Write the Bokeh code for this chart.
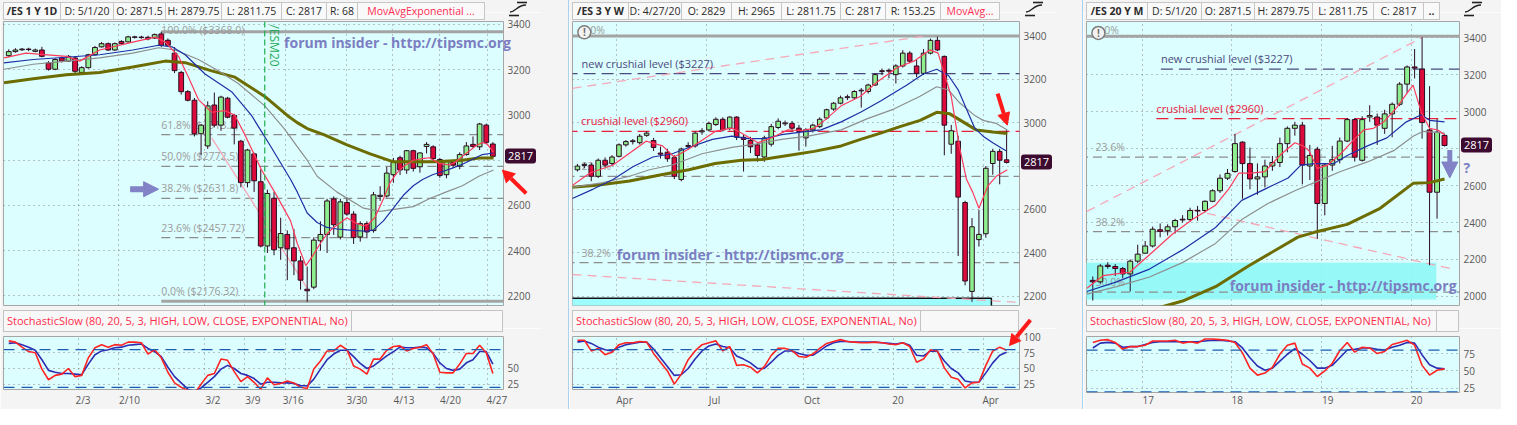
import math
from bokeh.plotting import figure
from bokeh.layouts import row, column
from bokeh.models import ColumnDataSource, FixedTicker, Label, Arrow, NormalHead, Div, Range1d, Span
from bokeh.embed import file_html
from bokeh.resources import INLINE
from bokeh.core.properties import value

FONT = "Open Sans"
CYAN = "#dcfefe"
PANEL_BG = "#f4f4f4"
UP_FILL = "#8eef8e"
DOWN_FILL = "#dc0b3c"
WICK = "#2a0c20"
EMA_RED = "#ff3b5c"
EMA_BLUE = "#1f2fa6"
SMA_GRAY = "#8e8e8e"
SMA_OLIVE = "#6c6c00"
STO_K = "#ff2323"
STO_D = "#2d2db4"
WM_COLOR = "#7b7fc2"
FIB_GRAY = "#9b9b9b"
NAVY_LVL = "#4a4a80"
RED_LVL = "#e8203c"
PINK = "#f5a8b8"
TAG_BG = "#3c0b2f"

STOCH_TITLE = "StochasticSlow (80, 20, 5, 3, HIGH, LOW, CLOSE, EXPONENTIAL, No)"
WATERMARK = "forum insider - http://tipsmc.org"

# ======================= Panel 1 : /ES 1 Y 1D (daily) =======================
d_open = [3262, 3280, 3288, 3291, 3281, 3287, 3230, 3202, 3252, 3238,
          3252, 3188, 3209, 3266, 3301, 3315, 3287, 3325, 3323, 3343,
          3344, 3343, 3340, 3358, 3330, 3273, 3188, 3103, 3065, 2917,
          2863, 3044, 2955, 3074, 2998, 2884, 2701, 2828, 2705, 2421,
          2632, 2413, 2472, 2413, 2355, 2230, 2239, 2444, 2472, 2629,
          2460, 2613, 2562, 2461, 2520, 2489, 2640, 2642, 2736, 2811,
          2757, 2842, 2771, 2861, 2859, 2803, 2736, 2790, 2774, 2825,
          2870, 2859, 2955, 2871.5]
d_high = [3290, 3295, 3296, 3297, 3293, 3301, 3238, 3250, 3258, 3265,
          3260, 3215, 3270, 3305, 3322, 3320, 3320, 3330, 3350, 3350,
          3350, 3350, 3360, 3368, 3338, 3300, 3195, 3110, 3075, 2960,
          3060, 3099, 3085, 3080, 3005, 2890, 2850, 2833, 2760, 2670,
          2660, 2546, 2490, 2496, 2376, 2330, 2460, 2530, 2630, 2640,
          2630, 2635, 2575, 2530, 2530, 2660, 2685, 2770, 2810, 2820,
          2845, 2846, 2835, 2880, 2866, 2810, 2800, 2800, 2835, 2880,
          2905, 2965, 2962, 2879.75]
d_low = [3255, 3275, 3283, 3282, 3277, 3255, 3196, 3198, 3232, 3235,
         3185, 3183, 3205, 3262, 3298, 3283, 3283, 3310, 3320, 3338,
         3337, 3330, 3336, 3300, 3300, 3185, 3090, 3060, 2905, 2821,
         2850, 2945, 2930, 2985, 2870, 2680, 2680, 2660, 2415, 2390,
         2380, 2360, 2270, 2292, 2228, 2174, 2230, 2400, 2390, 2470,
         2450, 2555, 2430, 2440, 2455, 2480, 2620, 2635, 2700, 2735,
         2740, 2750, 2745, 2830, 2790, 2722, 2720, 2765, 2760, 2820,
         2855, 2845, 2870, 2811.75]
d_close = [3280, 3287, 3291, 3289, 3287, 3259, 3202, 3245, 3238, 3259,
           3193, 3209, 3266, 3298, 3315, 3287, 3315, 3315, 3345, 3345,
           3342, 3336, 3355, 3308, 3308, 3196, 3103, 3065, 2917, 2955,
           3040, 2955, 3079, 2990, 2942, 2701, 2845, 2709, 2421, 2653,
           2404, 2476, 2408, 2355, 2270, 2223, 2447, 2472, 2620, 2515,
           2616, 2562, 2458, 2520, 2483, 2647, 2645, 2743, 2790, 2757,
           2842, 2764, 2832, 2870, 2807, 2732, 2794, 2778, 2825, 2863,
           2861, 2960, 2879, 2817]
d_ema_red_x = [-0.7, 2.6, 8.7, 10.7, 13.7, 18.7, 22.1, 23.6, 25.6, 27.1, 28.6, 30.6, 32.6, 34.1, 35.6,
               38.1, 40.1, 42.5, 43.5, 44.8, 45.8, 47.0, 48.0, 49.0, 50.0, 51.0, 52.2, 53.5, 54.2, 55.2,
               56.5, 57.5, 58.5, 59.5, 61.0, 62.4, 63.4, 64.9, 66.4, 67.4, 68.9, 70.4, 71.4, 72.1, 73.1]
d_ema_red = [3252, 3273, 3259, 3238, 3287, 3322, 3344, 3322, 3259, 3167, 3068, 3012, 3019, 2998, 2913,
             2758, 2659, 2532, 2433, 2334, 2376, 2433, 2475, 2503, 2524, 2546, 2524, 2510, 2517, 2546,
             2630, 2701, 2743, 2772, 2800, 2807, 2811, 2786, 2779, 2793, 2828, 2863, 2878, 2873, 2835]
d_ema_blue_x = [-0.74, 3.7, 8.7, 13.7, 18.7, 22.6, 24.6, 26.6, 29.6, 33.6, 36.6, 39.6, 42.5, 43.5, 45.0,
                46.5, 48.0, 49.5, 51.0, 52.5, 54.0, 55.0, 56.5, 58.0, 59.5, 61.0, 62.4, 63.9, 65.4, 66.9,
                68.4, 69.9, 71.4, 73.1]
d_ema_blue = [3230, 3245, 3255, 3266, 3287, 3308, 3301, 3266, 3181, 3103, 2998, 2856, 2715, 2660, 2567,
              2525, 2503, 2496, 2492, 2489, 2486, 2492, 2532, 2588, 2645, 2687, 2715, 2736, 2750, 2765,
              2782, 2803, 2825, 2832]
d_sma_gray_x = [-0.7, 3.7, 8.7, 13.7, 18.7, 22.6, 25.1, 28.6, 31.6, 34.6, 38.6, 41.5, 43.5, 45.0, 46.5,
                49.5, 53.5, 56.0, 61.0, 63.4, 65.9, 68.4, 70.9, 73.1]
d_sma_gray = [3202, 3224, 3238, 3252, 3273, 3297, 3287, 3245, 3195, 3139, 3040, 2941, 2860, 2800, 2729,
              2659, 2588, 2574, 2595, 2630, 2659, 2687, 2729, 2757]
d_sma_olive_x = [-0.7, 3.7, 8.7, 13.7, 18.7, 23.6, 26.6, 30.6, 34.1, 38.6, 42.0, 43.5, 45.0, 47.5, 51.0,
                 54.5, 58.0, 61.0, 64.4, 68.4, 70.9, 73.1]
d_sma_olive = [3142, 3160, 3178, 3188, 3212, 3238, 3231, 3195, 3167, 3082, 2998, 2966, 2940, 2913, 2868,
               2828, 2793, 2793, 2793, 2800, 2810, 2810]
d_stoch_k = [94, 92, 84, 77, 75, 49, 32, 39, 41, 50, 37, 39, 67, 83, 88, 84, 88, 87, 92, 92,
             91, 73, 80, 67, 44, 27, 20, 15, 10, 25, 39, 42, 65, 63, 45, 29, 37, 28, 17, 35,
             24, 26, 30, 27, 20, 18, 49, 62, 78, 78, 87, 80, 54, 49, 41, 65, 65, 79, 85, 86,
             78, 82, 84, 88, 73, 44, 43, 43, 57, 74, 74, 87, 75, 42]
d_stoch_d = [90, 91, 88, 84, 79, 64, 47, 44, 42, 42, 41, 40, 57, 72, 78, 80, 83, 84, 87, 88,
             89, 82, 77, 69, 52, 37, 27, 17, 14, 19, 28, 37, 49, 55, 50, 42, 39, 34, 25, 28,
             28, 27, 27, 26, 23, 22, 33, 49, 64, 73, 79, 79, 69, 58, 50, 54, 62, 70, 77, 84,
             83, 83, 84, 83, 74, 59, 50, 47, 49, 59, 64, 77, 77, 57]
d_date_labels = ["2/3", "2/10", "3/2", "3/9", "3/16", "3/30", "4/13", "4/20", "4/27"]
d_date_label_pos = [11.2, 18.2, 30.8, 36.8, 42.9, 52.5, 59.6, 66.6, 73.6]
d_date_grid_pos = [10.5, 16.6, 29.5, 35.5, 41.7, 51.0, 57.9, 65.0, 72.2]
d_fib_levels = [3368.0, 2913.2, 2772.5, 2631.8, 2457.72, 2176.32]
d_fib_labels = ["100.0%  ($3368.0)", "61.8%  ($2913.2)", "50.0%  ($2772.5)",
                "38.2%  ($2631.8)", "23.6%  ($2457.72)", "0.0%  ($2176.32)"]
d_fib_solid = [True, False, False, False, False, True]
d_fib_start = 23.0
d_roll_pos = 38.6          # /ESM20 contract roll
d_trend_x = [30.6, 45.0]
d_trend_y = [2899, 2235]

# ======================= Panel 2 : /ES 3 Y W (weekly) =======================
w_open = [2783, 2803, 2805, 2753, 2827, 2812, 2845, 2898, 2913, 2908,
          2942, 2918, 2860, 2864, 2839, 2738, 2890, 2893, 2958, 2967,
          2992, 3016, 2975, 3026, 2933, 2918, 2898, 2842, 2901, 2978,
          2995, 2997, 2975, 2930, 2967, 2982, 3022, 3063, 3090, 3116,
          3115, 3147, 3144, 3174, 3236, 3242, 3222, 3262, 3321, 3262,
          3228, 3321, 3380, 3306, 2901, 2915, 2632, 2222, 2461, 2488,
          2812, 2868, 2829]
w_high = [2810, 2815, 2815, 2835, 2840, 2850, 2905, 2920, 2925, 2948,
          2960, 2930, 2890, 2880, 2850, 2885, 2910, 2960, 2975, 3005,
          3025, 3025, 3030, 3030, 2945, 2935, 2910, 2940, 2995, 3020,
          3010, 3008, 2990, 2975, 2995, 3025, 3065, 3095, 3125, 3130,
          3150, 3160, 3180, 3228, 3250, 3250, 3270, 3335, 3330, 3290,
          3340, 3388, 3397, 3310, 2990, 2940, 2640, 2560, 2598, 2800,
          2880, 2880, 2965]
w_low = [2775, 2790, 2730, 2745, 2795, 2800, 2840, 2890, 2900, 2900,
         2935, 2870, 2835, 2820, 2740, 2730, 2880, 2885, 2945, 2960,
         2985, 2960, 2965, 2920, 2775, 2860, 2820, 2820, 2890, 2970,
         2985, 2960, 2871, 2890, 2955, 2975, 3015, 3055, 3085, 3105,
         3108, 3070, 3135, 3170, 3220, 3205, 3181, 3255, 3275, 3210,
         3220, 3315, 3330, 2850, 2857, 2385, 2250, 2174, 2429, 2470,
         2760, 2716, 2811.75]
w_close = [2800, 2808, 2753, 2827, 2805, 2842, 2898, 2913, 2917, 2938,
           2952, 2886, 2855, 2834, 2753, 2879, 2895, 2952, 2963, 2997,
           3016, 2967, 3026, 2933, 2923, 2889, 2849, 2930, 2982, 3007,
           2999, 2975, 2960, 2967, 2989, 3016, 3060, 3090, 3115, 3120,
           3144, 3150, 3174, 3222, 3240, 3238, 3262, 3321, 3284, 3228,
           3321, 3380, 3336, 2989, 2963, 2657, 2270, 2520, 2485, 2790,
           2868, 2827, 2817]
w_ema_red_x = [-0.81, 1.81, 5.15, 9.92, 12.3, 13.97, 16.1, 19.9, 22.3, 23.3, 26.1, 28.0, 30.4, 32.3, 34.2,
               35.7, 38.1, 40.9, 43.3, 46.2, 48.6, 50.9, 52.1, 54.0, 55.2, 56.2, 57.1, 58.0, 59.3, 60.5, 62.1]
w_ema_red = [2709, 2768, 2805, 2915, 2893, 2842, 2879, 2960, 2975, 2960, 2908, 2930, 2967, 2963, 2975,
             3011, 3078, 3122, 3188, 3255, 3284, 3336, 3321, 3122, 2886, 2739, 2680, 2606, 2709, 2753, 2783]
w_ema_blue_x = [-0.81, 2.29, 5.15, 8.01, 10.9, 13.7, 16.1, 19.5, 22.3, 24.7, 27.1, 29.5, 32.3, 35.2, 38.1,
                40.9, 43.8, 47.6, 49.97, 51.9, 53.6, 55.0, 56.2, 57.4, 58.6, 60.0, 61.9]
w_ema_blue = [2650, 2694, 2738, 2797, 2842, 2857, 2886, 2923, 2938, 2927, 2927, 2945, 2957, 2967, 3004,
              3048, 3100, 3174, 3225, 3247, 3218, 3152, 3063, 2975, 2938, 2908, 2871]
w_sma_gray_x = [-0.81, 3.72, 7.53, 10.4, 13.7, 18.0, 22.3, 25.7, 29.5, 33.3, 38.1, 41.9, 45.7, 49.5, 51.9,
                53.6, 55.2, 57.4, 58.6, 60.5, 62.1]
w_sma_gray = [2702, 2724, 2753, 2783, 2805, 2857, 2886, 2901, 2923, 2938, 2967, 3019, 3063, 3122, 3166,
              3151, 3092, 3033, 3011, 2997, 2967]
w_sma_olive_x = [-0.81, 2.77, 7.53, 12.3, 16.1, 19.9, 23.7, 26.6, 30.4, 34.2, 38.1, 40.9, 43.8, 46.6, 49.5,
                 51.9, 53.8, 55.7, 57.6, 60.0, 62.1]
w_sma_olive = [2702, 2712, 2731, 2761, 2783, 2812, 2827, 2830, 2849, 2868, 2893, 2923, 2952, 2982, 3011,
               3048, 3041, 3004, 2967, 2957, 2950]
w_stoch_k = [95, 95, 78, 82, 72, 76, 88, 91, 91, 93, 92, 74, 60, 46, 25, 41, 64, 78, 88, 91,
             94, 78, 85, 55, 56, 52, 43, 53, 71, 82, 82, 79, 69, 68, 73, 82, 90, 93, 96, 93,
             92, 91, 91, 92, 91, 89, 88, 91, 85, 60, 65, 80, 78, 51, 36, 33, 19, 27, 28, 55,
             78, 84, 79]
w_stoch_d = [92, 94, 90, 84, 80, 78, 84, 88, 90, 92, 92, 81, 67, 53, 39, 40, 50, 65, 78, 86,
             89, 85, 83, 70, 65, 59, 50, 50, 60, 71, 78, 78, 74, 71, 71, 78, 86, 91, 93, 93,
             92, 92, 92, 92, 91, 90, 89, 91, 87, 71, 70, 78, 77, 62, 50, 43, 30, 28, 28, 43,
             59, 71, 76]
w_date_labels = ["Apr", "Jul", "Oct", "20", "Apr"]
w_date_label_pos = [6.8, 19.8, 33.9, 46.3, 59.7]
w_date_grid_pos = [5.6, 18.6, 32.7, 45.6, 58.6]
w_fib_levels = [3400, 2753, 2355]
w_fib_labels = ["0.0%", "23.6%", "38.2%"]
w_new_level = 3227
w_old_level = 2960
w_trend_up_x = [-0.71, 50.6]
w_trend_up_y = [3159, 3402]
w_trend_dn_x = [-0.71, 63.86]
w_trend_dn_y = [2300, 2171]
w_zone = [59.8, 2190]     # right edge (bar index), top price of the highlighted base zone

# ======================= Panel 3 : /ES 20 Y M (monthly) =======================
m_open = [2087, 2079, 2169, 2162, 2151, 2122, 2191, 2234, 2273, 2361,
          2356, 2377, 2418, 2416, 2463, 2465, 2515, 2572, 2640, 2676,
          2835, 2719, 2636, 2647, 2706, 2725, 2827, 2910, 2927, 2706,
          2797, 2503, 2711, 2740, 2841, 2957, 2737, 2971, 2971, 2910,
          2988, 3040, 3149, 3242, 3230, 2901, 2564, 2871.5]
m_high = [2108, 2175, 2185, 2175, 2160, 2200, 2280, 2300, 2378, 2395,
          2390, 2420, 2440, 2480, 2490, 2520, 2580, 2660, 2690, 2880,
          2840, 2806, 2720, 2740, 2760, 2860, 2920, 2945, 2945, 2820,
          2810, 2720, 2815, 2860, 2965, 2965, 2975, 3035, 2990, 3010,
          3050, 3160, 3250, 3339, 3403, 3138, 2960, 2879.75]
m_low = [1978, 2070, 2150, 2110, 2100, 2027, 2180, 2230, 2265, 2320,
         2330, 2340, 2400, 2405, 2410, 2455, 2510, 2560, 2630, 2670,
         2529, 2580, 2550, 2590, 2680, 2700, 2780, 2870, 2607, 2630,
         2312, 2439, 2680, 2720, 2835, 2730, 2730, 2945, 2820, 2880,
         2861, 3030, 3100, 3180, 2854, 2169, 2421, 2811.75]
m_close = [2079, 2165, 2162, 2151, 2122, 2191, 2229, 2273, 2364, 2352,
           2377, 2411, 2414, 2465, 2466, 2515, 2572, 2640, 2666, 2827,
           2719, 2636, 2647, 2706, 2725, 2827, 2910, 2927, 2711, 2763,
           2503, 2711, 2740, 2841, 2957, 2754, 2957, 2979, 2927, 2988,
           3040, 3149, 3242, 3236, 2941, 2564, 2889, 2817]
m_ema_red_x = [-0.79, 1.41, 3.17, 4.93, 7.58, 10.66, 13.3, 16.4, 18.15, 19.5, 21.2, 23.0, 25.2, 27.0, 28.1,
               28.9, 30.0, 31.4, 33.1, 34.9, 36.2, 37.5, 38.9, 40.6, 42.0, 42.8, 43.9, 45.0, 46.1, 47.0]
m_ema_red = [2044, 2113, 2122, 2131, 2226, 2338, 2416, 2494, 2581, 2667, 2667, 2676, 2771, 2832, 2815,
             2789, 2693, 2711, 2771, 2849, 2901, 2910, 2945, 3022, 3100, 3144, 2996, 2910, 2901, 2875]
m_ema_blue_x = [-0.79, 3.17, 7.58, 11.98, 16.4, 19.9, 23.0, 26.1, 27.8, 29.6, 32.2, 34.0, 36.7, 39.3, 41.9,
                43.9, 45.0, 47.0]
m_ema_blue = [2027, 2079, 2148, 2252, 2373, 2520, 2581, 2641, 2711, 2719, 2719, 2763, 2815, 2858, 2945,
              2983, 2953, 2945]
m_sma_gray_x = [-0.79, 3.17, 7.58, 11.98, 16.4, 19.9, 23.4, 27.0, 29.6, 33.1, 36.7, 40.2, 42.8, 44.1, 45.5, 47.0]
m_sma_gray = [2013, 2053, 2105, 2183, 2287, 2416, 2503, 2572, 2616, 2676, 2728, 2789, 2867, 2893, 2889, 2884]
m_sma_olive_x = [7.6, 8.9, 12.0, 16.4, 20.8, 25.2, 27.4, 29.6, 34.0, 38.4, 42.8, 45.0, 47.0]
m_sma_olive = [1920, 1940, 1975, 2053, 2165, 2269, 2321, 2347, 2390, 2477, 2612, 2616, 2636]
m_stoch_k = [91, 94, 95, 91, 81, 85, 85, 87, 93, 93, 93, 94, 90, 92, 90, 96, 96, 95, 94, 91,
             76, 54, 44, 47, 55, 74, 87, 90, 60, 54, 42, 50, 61, 79, 91, 77, 84, 83, 75, 78,
             88, 91, 94, 87, 58, 44, 51, 53]
m_stoch_d = [83, 90, 91, 90, 84, 85, 85, 88, 91, 92, 92, 92, 92, 92, 92, 93, 94, 94, 93, 92,
             83, 69, 57, 51, 54, 64, 74, 82, 74, 65, 54, 54, 58, 69, 80, 81, 83, 83, 81, 80,
             84, 87, 91, 90, 73, 59, 54, 53]
m_date_labels = ["17", "18", "19", "20"]
m_date_label_pos = [7.4, 19.3, 31.4, 43.3]
m_date_grid_pos = [6.6, 18.6, 30.6, 42.6]
m_fib_levels = [3408, 2754, 2351, 2023]
m_fib_labels = ["0.0%", "23.6%", "38.2%", "50.0%"]
m_new_level = 3230
m_old_level = 2962
m_new_start = 9.1
m_old_start = 8.5
m_trend_up_x = [-0.79, 44.1]
m_trend_up_y = [2460, 3403]
m_trend_dn_x = [13.3, 48.1]
m_trend_dn_y = [2468, 2148]
m_zone = [45.9, 1984, 2183]   # right edge, bottom, top

LAST_CLOSE = 2817

# ============================== helpers ==============================
H_HEAD, H_MAIN, H_LAB, H_STO = 12, 296, 20, 81
MAIN_TOP, MAIN_BOTTOM = 9, 3
STO_TOP, STO_BOTTOM = 8, 17
TOTAL_H = H_HEAD + H_MAIN + H_LAB + H_STO


def style_axis(ax):
    ax.axis_line_color = None
    ax.major_tick_line_color = None
    ax.minor_tick_line_color = None
    ax.major_tick_out = 0
    ax.major_tick_in = 0
    ax.major_label_text_font = FONT
    ax.major_label_text_font_size = "10px"
    ax.major_label_text_color = "#585858"
    ax.major_label_standoff = 4


def style_fig(p, yticks, ygrid, xgrid):
    p.background_fill_color = CYAN
    p.border_fill_color = PANEL_BG
    p.outline_line_color = "#a6a6a6"
    ax = p.yaxis[0]
    ax.ticker = FixedTicker(ticks=yticks)
    style_axis(ax)
    p.ygrid.ticker = FixedTicker(ticks=ygrid)
    p.xgrid.ticker = FixedTicker(ticks=xgrid)
    for g in (p.xgrid, p.ygrid):
        g.grid_line_color = "#7a7a7a"
        g.grid_line_dash = "1 4"
        g.grid_line_alpha = 0.9


def make_main(width, right, xr, yr, yticks, ygrid, xgrid):
    p = figure(width=width, height=H_MAIN, x_range=xr, y_range=yr, output_backend="svg",
               toolbar_location=None, x_axis_location=None, y_axis_location="right",
               min_border_left=3, min_border_right=right, min_border_top=MAIN_TOP,
               min_border_bottom=MAIN_BOTTOM)
    style_fig(p, yticks, ygrid, xgrid)
    return p


def make_stoch(width, right, xr, yr, yticks, lab_pos, lab_txt, xgrid, k, d):
    p = figure(width=width, height=H_STO, x_range=xr, y_range=yr, output_backend="svg",
               toolbar_location=None, y_axis_location="right",
               min_border_left=3, min_border_right=right, min_border_top=STO_TOP,
               min_border_bottom=STO_BOTTOM)
    style_fig(p, yticks, [25, 50, 75], xgrid)
    xa = p.xaxis[0]
    xa.ticker = FixedTicker(ticks=lab_pos)
    xa.major_label_overrides = {pos: txt for pos, txt in zip(lab_pos, lab_txt)}
    style_axis(xa)
    xa.major_label_standoff = 3
    for lvl in (80, 20):
        p.add_layout(Span(location=lvl, dimension="width", line_color="#1c5db2",
                          line_dash="11 7", line_width=1.3))
    xs = list(range(len(k)))
    p.line(xs, d, line_color=STO_D, line_width=1.6)
    p.line(xs, k, line_color=STO_K, line_width=1.6)
    return p


def draw_candles(p, o, h, l, c, width):
    x = list(range(len(o)))
    src = ColumnDataSource(dict(
        x=x, h=h, l=l,
        top=[max(a, b) for a, b in zip(o, c)],
        bot=[min(a, b) for a, b in zip(o, c)],
        col=[UP_FILL if cc >= oo else DOWN_FILL for oo, cc in zip(o, c)]))
    p.segment(x0="x", y0="l", x1="x", y1="h", source=src, line_color=WICK, line_width=1)
    p.vbar(x="x", width=width, top="top", bottom="bot", source=src,
           fill_color="col", line_color=WICK, line_width=1)


def draw_mas(p, series):
    for xs, ys, color, lw in series:
        p.line(xs, ys, line_color=color, line_width=lw)


def add_text(p, xs, ys, texts, color, size="11px", baseline="bottom", yoff=-3):
    p.text(x=xs, y=ys, text=texts, text_color=color, text_font=value(FONT), text_font_size=size,
           text_align="left", text_baseline=baseline, y_offset=yoff)


def add_watermark(p, x, y):
    p.add_layout(Label(x=x, y=y, text=WATERMARK, text_font=FONT, text_font_size="14px",
                       text_font_style="bold", text_color=WM_COLOR, text_align="left",
                       text_baseline="middle"))


def add_arrow(p, x0, y0, x1, y1, color, lw, size):
    p.add_layout(Arrow(end=NormalHead(size=size, fill_color=color, line_color=color),
                       x_start=x0, y_start=y0, x_end=x1, y_end=y1,
                       line_color=color, line_width=lw))


def add_alert_icon(p, x, y):
    p.scatter([x], [y], marker="circle", size=13, fill_color="#f2f2f2", line_color="#7d7d7d",
              line_width=1.5)
    p.text(x=[x], y=[y], text=["!"], text_color="#6d6d6d", text_font=value(FONT),
           text_font_size="10px", text_align="center", text_baseline="middle",
           text_font_style="bold")


# ---- mapping data -> pixel inside a panel column (for the overlay drawn over the axis strip) ----
def mapper(xr, yr, width, right, top, height):
    fw = width - 3 - right

    def f(x, y):
        return (3 + (x - xr.start) / (xr.end - xr.start) * fw,
                top + (yr.end - y) / (yr.end - yr.start) * height)
    return f


def svg_arrow(p0, p1, color, lw, head):
    (x0, y0), (x1, y1) = p0, p1
    dx, dy = x1 - x0, y1 - y0
    L = math.hypot(dx, dy)
    ux, uy = dx / L, dy / L
    bx, by = x1 - ux * head, y1 - uy * head
    nx, ny = -uy * head * 0.55, ux * head * 0.55
    return (f'<line x1="{x0:.1f}" y1="{y0:.1f}" x2="{bx:.1f}" y2="{by:.1f}" stroke="{color}" '
            f'stroke-width="{lw}"/>'
            f'<polygon points="{x1:.1f},{y1:.1f} {bx + nx:.1f},{by + ny:.1f} {bx - nx:.1f},{by - ny:.1f}" '
            f'fill="{color}"/>')


def svg_tag(f, xr):
    x, y = f(xr.end, LAST_CLOSE)
    x += 2
    return (f'<rect x="{x:.1f}" y="{y - 7.5:.1f}" width="31" height="15" rx="3" fill="{TAG_BG}"/>'
            f'<text x="{x + 15.5:.1f}" y="{y + 4:.1f}" font-family="Open Sans" font-size="11" '
            f'fill="white" text-anchor="middle">{LAST_CLOSE}</text>')


def svg_watermark(x, y):
    return (f'<text x="{x:.1f}" y="{y + 5:.1f}" font-family="Open Sans" font-size="14" '
            f'font-weight="bold" fill="{WM_COLOR}">{WATERMARK}</text>')


ICON = ('<svg width="20" height="16" viewBox="0 0 20 16">'
        '<line x1="9" y1="1.5" x2="19" y2="1.5" stroke="#222" stroke-width="1.6"/>'
        '<line x1="1" y1="14.5" x2="11" y2="14.5" stroke="#222" stroke-width="1.6"/>'
        '<path d="M2 11 C8 11 9 4 18 4" fill="none" stroke="#222" stroke-width="1.3"/></svg>')


def header(width, cells, icon_x, overlay):
    parts = []
    for i, (txt, w, kind) in enumerate(cells):
        color = "#ff2d55" if kind == "red" else "#2b2b2b"
        weight = "bold" if kind == "bold" else "normal"
        ml = "margin-left:-1px;" if i else ""
        parts.append(
            f'<div style="box-sizing:border-box;width:{w}px;height:18px;border:1px solid #c6c6c6;{ml}'
            f'background:#f9f9f9;color:{color};font-weight:{weight};text-align:center;'
            f'line-height:16px;white-space:nowrap;">{txt}</div>')
    html = (f'<div style="position:relative;width:{width}px;height:{H_HEAD}px;background:{PANEL_BG};'
            f'font-family:\'Open Sans\',sans-serif;font-size:10.5px;">'
            f'<div style="position:absolute;left:3px;top:2px;display:flex;">{"".join(parts)}</div>'
            f'<div style="position:absolute;left:{icon_x}px;top:1px;line-height:0;">{ICON}</div>'
            f'<svg width="{width}" height="{TOTAL_H}" style="position:absolute;left:0;top:0;'
            f'overflow:visible;pointer-events:none;">{overlay}</svg></div>')
    return Div(text=html, width=width, height=H_HEAD, margin=(0, 0, 0, 0),
               styles={"overflow": "visible", "z-index": "10"})


def stoch_label(width, right, title_w):
    fw = width - 3 - right
    html = (f'<div style="position:relative;width:{width}px;height:{H_LAB}px;background:{PANEL_BG};'
            f'font-family:\'Open Sans\',sans-serif;">'
            f'<div style="position:absolute;left:3px;top:2px;display:flex;">'
            f'<div style="box-sizing:border-box;width:{title_w}px;height:22px;border:1px solid #c3c3c3;'
            f'background:#f8f8f8;color:#ff2d4b;font-size:11px;line-height:20px;padding-left:3px;'
            f'white-space:nowrap;">{STOCH_TITLE}</div>'
            f'<div style="box-sizing:border-box;width:{fw - title_w + 1}px;height:22px;'
            f'border:1px solid #c3c3c3;margin-left:-1px;background:#f8f8f8;"></div></div></div>')
    return Div(text=html, width=width, height=H_LAB, margin=(0, 0, 0, 0),
               styles={"overflow": "visible", "z-index": "5"})


def spacer(width):
    html = (f'<div style="width:{width}px;height:{TOTAL_H}px;background:{PANEL_BG};'
            f'box-sizing:border-box;border-right:1px solid #a8d2f0;"></div>')
    return Div(text=html, width=width, height=TOTAL_H, margin=(0, 0, 0, 0))


MAIN_FRAME_TOP = H_HEAD + MAIN_TOP
MAIN_FRAME_H = H_MAIN - MAIN_TOP - MAIN_BOTTOM
STO_FRAME_TOP = H_HEAD + H_MAIN + H_LAB + STO_TOP
STO_FRAME_H = H_STO - STO_TOP - STO_BOTTOM

# ============================== Panel 1 ==============================
W1, R1 = 542, 39
xr1 = Range1d(-0.79, 74.6)
yr1 = Range1d(2158, 3413)
p1 = make_main(W1, R1, xr1, yr1, [2200, 2400, 2600, 3000, 3200, 3400],
               [2200, 2400, 2600, 2800, 3000, 3200, 3400], d_date_grid_pos)
dash_i = [i for i, s in enumerate(d_fib_solid) if not s]
solid_i = [i for i, s in enumerate(d_fib_solid) if s]
p1.segment(x0=[d_fib_start] * len(dash_i), x1=[xr1.end + 1] * len(dash_i),
           y0=[d_fib_levels[i] for i in dash_i], y1=[d_fib_levels[i] for i in dash_i],
           line_color="#8d8d8d", line_dash="9 5", line_width=1.2)
p1.segment(x0=[d_fib_start] * len(solid_i), x1=[xr1.end + 1] * len(solid_i),
           y0=[d_fib_levels[i] for i in solid_i], y1=[d_fib_levels[i] for i in solid_i],
           line_color="#a4a4a4", line_width=3)
add_text(p1, [d_fib_start], [yr1.end], d_fib_labels[:1], FIB_GRAY, size="10.5px", baseline="top", yoff=1)
add_text(p1, [d_fib_start] * 5, d_fib_levels[1:], d_fib_labels[1:], FIB_GRAY, size="10.5px")
p1.add_layout(Span(location=d_roll_pos, dimension="height", line_color="#1fae50",
                   line_dash="6 3", line_width=1.2))
p1.text(x=[d_roll_pos], y=[3400], text=["/ESM20"], angle=-math.pi / 2, text_color="#22aa55",
        text_font=value(FONT), text_font_size="12px", text_align="left", text_baseline="bottom",
        x_offset=1)
p1.line(d_trend_x, d_trend_y, line_color=PINK, line_width=1.3)
draw_candles(p1, d_open, d_high, d_low, d_close, 0.72)
draw_mas(p1, [(d_sma_olive_x, d_sma_olive, SMA_OLIVE, 3), (d_sma_gray_x, d_sma_gray, SMA_GRAY, 1.2),
              (d_ema_blue_x, d_ema_blue, EMA_BLUE, 1.2), (d_ema_red_x, d_ema_red, EMA_RED, 1.2)])
add_arrow(p1, 18.3, 2672, 22.6, 2672, "#8282c6", 6, 15)
s1 = make_stoch(W1, R1, xr1, Range1d(16.5, 101), [25, 50], d_date_label_pos, d_date_labels,
                d_date_grid_pos, d_stoch_k, d_stoch_d)
f1 = mapper(xr1, yr1, W1, R1, MAIN_FRAME_TOP, MAIN_FRAME_H)
ov1 = (svg_watermark(*f1(41.6, 3315)) + svg_tag(f1, xr1)
       + svg_arrow(f1(78.1, 2651), f1(74.4, 2757), "#ff1a1a", 4, 13))
h1 = header(W1, [("/ES 1 Y 1D", 58, "bold"), ("D: 5/1/20", 54, ""), ("O: 2871.5", 53, ""),
                 ("H: 2879.75", 57, ""), ("L: 2811.75", 61, ""), ("C: 2817", 46, ""),
                 ("R: 68", 32, ""), ("MovAvgExponential ...", 128, "red")], 508, ov1)
l1 = stoch_label(W1, R1, 349)

# ============================== Panel 2 ==============================
W2, R2 = 488, 38
xr2 = Range1d(-0.71, 63.86)
yr2 = Range1d(2157, 3467)
sr2 = Range1d(16.5, 101)
p2 = make_main(W2, R2, xr2, yr2, [2200, 2400, 2600, 3000, 3200, 3400],
               [2200, 2400, 2600, 2800, 3000, 3200, 3400], w_date_grid_pos)
p2.quad(left=[xr2.start - 2], right=[w_zone[0]], bottom=[yr2.start - 100], top=[w_zone[1]],
        fill_color="#9ffcfc", line_color="#111111", line_width=1.5)
p2.segment(x0=[xr2.start - 1], x1=[xr2.end + 1], y0=[w_fib_levels[0]], y1=[w_fib_levels[0]],
           line_color="#a4a4a4", line_width=3)
p2.segment(x0=[xr2.start - 1] * 2, x1=[xr2.end + 1] * 2, y0=w_fib_levels[1:], y1=w_fib_levels[1:],
           line_color="#8d8d8d", line_dash="9 5", line_width=1.2)
p2.segment(x0=[xr2.start - 1], x1=[xr2.end + 1], y0=[w_new_level], y1=[w_new_level],
           line_color=NAVY_LVL, line_dash="12 6", line_width=1.3)
p2.segment(x0=[xr2.start - 1], x1=[xr2.end + 1], y0=[w_old_level], y1=[w_old_level],
           line_color=RED_LVL, line_dash="12 6", line_width=1.3)
p2.line(w_trend_up_x, w_trend_up_y, line_color=PINK, line_dash="9 6", line_width=1.3)
p2.line(w_trend_dn_x, w_trend_dn_y, line_color=PINK, line_dash="9 6", line_width=1.3)
add_text(p2, [0.6], [yr2.end], w_fib_labels[:1], FIB_GRAY, size="10.5px", baseline="top", yoff=1)
add_text(p2, [0.6, 0.6], w_fib_levels[1:], w_fib_labels[1:], FIB_GRAY, size="10.5px")
add_text(p2, [0.6], [w_new_level], ["new crushial level ($3227)"], NAVY_LVL)
add_text(p2, [0.5], [w_old_level], ["crushial level ($2960)"], RED_LVL)
add_alert_icon(p2, 1.0, 3417)
draw_candles(p2, w_open, w_high, w_low, w_close, 0.66)
draw_mas(p2, [(w_sma_olive_x, w_sma_olive, SMA_OLIVE, 3), (w_sma_gray_x, w_sma_gray, SMA_GRAY, 1.2),
              (w_ema_blue_x, w_ema_blue, EMA_BLUE, 1.2), (w_ema_red_x, w_ema_red, EMA_RED, 1.2)])
add_watermark(p2, 5.7, 2392)
add_arrow(p2, 60.7, 3134, 62.1, 2989, "#ff1a1a", 4, 12)
s2 = make_stoch(W2, R2, xr2, sr2, [25, 50, 75, 100], w_date_label_pos, w_date_labels,
                w_date_grid_pos, w_stoch_k, w_stoch_d)
f2 = mapper(xr2, yr2, W2, R2, MAIN_FRAME_TOP, MAIN_FRAME_H)
g2 = mapper(xr2, sr2, W2, R2, STO_FRAME_TOP, STO_FRAME_H)
ov2 = svg_tag(f2, xr2) + svg_arrow(g2(65.5, 125), g2(62.4, 85.6), "#ff1a1a", 4, 12)
h2 = header(W2, [("/ES 3 Y W", 57, "bold"), ("D: 4/27/20", 54, ""), ("O: 2829", 51, ""),
                 ("H: 2965", 51, ""), ("L: 2811.75", 60, ""), ("C: 2817", 46, ""),
                 ("R: 153.25", 56, ""), ("MovAvg...", 60, "red")], 455, ov2)
l2 = stoch_label(W2, R2, 349)

# ============================== Panel 3 ==============================
W3, R3 = 418, 42
xr3 = Range1d(-0.84, 49.0)
yr3 = Range1d(1951, 3488)
p3 = make_main(W3, R3, xr3, yr3, [2000, 2200, 2400, 2600, 3000, 3200, 3400],
               [2000, 2200, 2400, 2600, 2800, 3000, 3200, 3400], m_date_grid_pos)
p3.quad(left=[xr3.start - 2], right=[m_zone[0]], bottom=[m_zone[1]], top=[m_zone[2]],
        fill_color="#8ff7f7", line_color=None, fill_alpha=0.9)
p3.segment(x0=[xr3.start - 1], x1=[xr3.end + 1], y0=[m_fib_levels[0]], y1=[m_fib_levels[0]],
           line_color="#a4a4a4", line_width=3)
p3.segment(x0=[xr3.start - 1] * 3, x1=[xr3.end + 1] * 3, y0=m_fib_levels[1:], y1=m_fib_levels[1:],
           line_color="#8d8d8d", line_dash="9 5", line_width=1.2)
p3.segment(x0=[m_new_start], x1=[xr3.end + 1], y0=[m_new_level], y1=[m_new_level],
           line_color=NAVY_LVL, line_dash="12 6", line_width=1.3)
p3.segment(x0=[m_old_start], x1=[xr3.end + 1], y0=[m_old_level], y1=[m_old_level],
           line_color=RED_LVL, line_dash="12 6", line_width=1.3)
p3.line(m_trend_up_x, m_trend_up_y, line_color=PINK, line_dash="9 6", line_width=1.3)
p3.line(m_trend_dn_x, m_trend_dn_y, line_color=PINK, line_dash="9 6", line_width=1.3)
add_text(p3, [0.35], [yr3.end], m_fib_labels[:1], FIB_GRAY, size="10.5px", baseline="top", yoff=1)
add_text(p3, [0.35] * 3, m_fib_levels[1:], m_fib_labels[1:], FIB_GRAY, size="10.5px")
add_text(p3, [m_new_start], [m_new_level], ["new crushial level ($3227)"], NAVY_LVL)
add_text(p3, [m_old_start], [m_old_level], ["crushial level ($2960)"], RED_LVL)
add_alert_icon(p3, 0.75, 3426)
draw_candles(p3, m_open, m_high, m_low, m_close, 0.66)
draw_mas(p3, [(m_sma_olive_x, m_sma_olive, SMA_OLIVE, 3), (m_sma_gray_x, m_sma_gray, SMA_GRAY, 1.2),
              (m_ema_blue_x, m_ema_blue, EMA_BLUE, 1.2), (m_ema_red_x, m_ema_red, EMA_RED, 1.2)])
add_watermark(p3, 18.3, 2061)
add_arrow(p3, 47.7, 2792, 47.7, 2641, "#8282c6", 5, 16)
s3 = make_stoch(W3, R3, xr3, Range1d(19, 99.5), [25, 50, 75], m_date_label_pos, m_date_labels,
                m_date_grid_pos, m_stoch_k, m_stoch_d)
f3 = mapper(xr3, yr3, W3, R3, MAIN_FRAME_TOP, MAIN_FRAME_H)
qx, qy = f3(49.6, 2693)
ov3 = svg_tag(f3, xr3) + (f'<text x="{qx:.1f}" y="{qy + 5:.1f}" font-family="Open Sans" font-size="14" '
                          f'font-weight="bold" fill="{WM_COLOR}">?</text>')
h3 = header(W3, [("/ES 20 Y M", 62, "bold"), ("D: 5/1/20", 55, ""), ("O: 2871.5", 54, ""),
                 ("H: 2879.75", 59, ""), ("L: 2811.75", 62, ""), ("C: 2817", 51, ""),
                 ("..", 17, "bold")], 380, ov3)
l3 = stoch_label(W3, R3, 351)

layout = row(column(h1, p1, l1, s1), spacer(27), column(h2, p2, l2, s2), spacer(26),
             column(h3, p3, l3, s3))
open("out.html", "w").write(file_html(layout, INLINE))
